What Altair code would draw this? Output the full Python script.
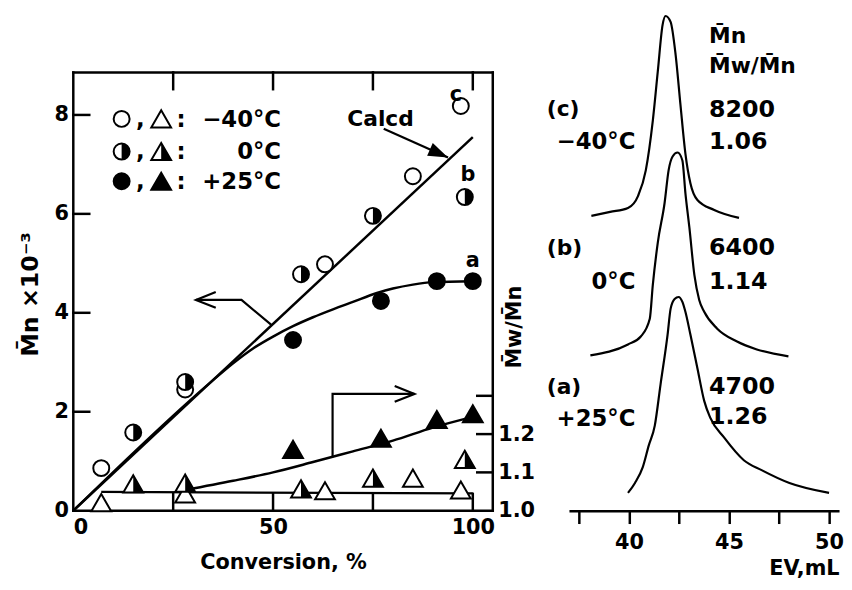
import altair as alt
import pandas as pd

FONT = "DejaVu Sans"
INK = "black"

# ---------------- left panel values ----------------
# Mn x 10^-3 against conversion (%)
conv_m40 = [7, 28, 63, 85, 97]          # open circles, -40 C
mn_m40 = [0.86, 2.45, 4.98, 6.76, 8.18]
conv_0 = [15, 28, 57, 75, 98]           # half circles, 0 C
mn_0 = [1.58, 2.60, 4.78, 5.96, 6.34]
conv_p25 = [55, 77, 91, 100]            # filled circles, +25 C
mn_p25 = [3.45, 4.24, 4.64, 4.64]

# Mw/Mn against conversion
pdi_conv_m40 = [7, 28, 63, 85, 97]
pdi_m40 = [1.021, 1.044, 1.052, 1.085, 1.054]
pdi_conv_0 = [15, 28, 57, 75, 98]
pdi_0 = [1.070, 1.072, 1.057, 1.085, 1.134]
pdi_conv_p25 = [55, 77, 91, 100]
pdi_p25 = [1.160, 1.189, 1.238, 1.253]

# drawn lines
calcd_conv = [0, 100]
calcd_mn = [0, 7.55]
mnfit_conv = [0, 35, 40, 45, 50, 55, 60, 65, 70, 76, 80, 85, 90, 100]
mnfit_mn = [0, 2.64, 2.98, 3.28, 3.52, 3.73, 3.91, 4.07, 4.22, 4.40, 4.49, 4.57, 4.62, 4.64]
pdifit_conv = [28, 40, 50, 60, 70, 80, 90, 100]
pdifit_val = [1.054, 1.078, 1.100, 1.127, 1.155, 1.183, 1.217, 1.245]
pdiflat_conv = [7, 100]
pdiflat_val = [1.049, 1.045]

# annotation arrows (conversion, Mn units)
arrow_left_conv = [30.7, 42.1, 49.5]
arrow_left_mn = [4.26, 4.26, 3.76]
arrow_right_conv = [64.9, 64.9, 85.4]
arrow_right_mn = [1.08, 2.36, 2.36]
arrow_calcd_conv = [77.7, 93.8]
arrow_calcd_mn = [7.72, 7.14]

# axis ticks
mn_ticks = [0, 2, 4, 6, 8]
conv_labels = [0, 50, 100]
conv_inner = [25, 50, 75, 100]
mn_inner = [2, 4, 6, 8]
pdi_labels = [1.0, 1.1, 1.2]
pdi_inner = [1.1, 1.2, 1.3]
FRAME_R, FRAME_T = 105, 8.86

# legend
legend_rows_y = [7.92, 7.26, 6.66]
legend_text = ["\u221240\u00b0C", "0\u00b0C", "+25\u00b0C"]

# ---------------- right panel values (GPC traces) ----------------
trace_c_ev = [38.12, 39.06, 39.95, 40.45, 40.84, 41.19, 41.44, 41.68, 41.83, 42.08,
              42.33, 42.57, 42.82, 43.07, 43.42, 44.26, 45.50]
trace_c_h = [298, 302, 306, 318, 344, 394, 444, 491, 500, 494,
             461, 411, 361, 331, 314, 304, 296]
trace_b_ev = [38.07, 39.95, 40.59, 41.04, 41.19, 41.44, 41.78, 41.98, 42.18, 42.43,
              42.67, 42.82, 43.02, 43.27, 43.51, 43.76, 44.41, 45.40, 46.39, 47.97]
trace_b_h = [157, 168, 176, 194, 228, 271, 311, 344, 358, 362,
             354, 321, 286, 238, 213, 201, 184, 171, 163, 156]
trace_a_ev = [39.95, 40.30, 40.69, 40.99, 41.29, 41.58, 41.93, 42.08, 42.28, 42.48,
              42.67, 42.82, 43.07, 43.42, 43.76, 44.06, 44.75, 45.74, 46.63, 48.02, 50.00]
trace_a_h = [18, 28, 44, 66, 86, 128, 178, 204, 214, 216,
             211, 201, 178, 144, 111, 94, 74, 51, 41, 28, 18]
ev_ticks = [37.5, 40, 42.5, 45, 47.5, 50]

sample_text = ["(c)", "(b)", "(a)"]
sample_h = [399, 258, 118]
temp_text = ["\u221240\u00b0C", "0\u00b0C", "+25\u00b0C"]
temp_h = [366, 224, 86]
mn_text = ["8200", "6400", "4700"]
mn_h = [398, 258, 118]
pdi_text = ["1.06", "1.14", "1.26"]
pdi_h = [366, 224, 88]
header_text = ["M\u0304n", "M\u0304w/M\u0304n"]
header_h = [473, 442]

# ---------------- scales ----------------
XS = alt.Scale(domain=[0, 105], nice=False, zero=False)
YMN = alt.Scale(domain=[0, 10.06], nice=False, zero=False)
YPDI = alt.Scale(domain=[1.0, 2.2997], nice=False, zero=False)
EVS = alt.Scale(domain=[37, 50.5], nice=False, zero=False)
HS = alt.Scale(domain=[0, 503], nice=False, zero=False)

TXT = dict(font=FONT, fontWeight="bold", color=INK)


def X(field="x"):
    return alt.X(f"{field}:Q", scale=XS)


def YM(field="y"):
    return alt.Y(f"{field}:Q", scale=YMN)


def YP(field="y"):
    return alt.Y(f"{field}:Q", scale=YPDI)


# ---- Mn group ----
seg = []
seg += [(0, 0, 0, FRAME_T), (FRAME_R, FRAME_R, 0, FRAME_T), (0, FRAME_R, 0, 0), (0, FRAME_R, FRAME_T, FRAME_T)]
seg += [(0, 4.0, v, v) for v in mn_inner]
seg += [(v, v, 0, 0.34) for v in conv_inner]
seg += [(v, v, FRAME_T - 0.34, FRAME_T) for v in conv_inner]
seg_df = pd.DataFrame(seg, columns=["x", "x2", "y", "y2"])

frame = alt.Chart(seg_df).mark_rule(color=INK, strokeWidth=2.5, strokeCap="square").encode(
    x=alt.X("x:Q", scale=XS, axis=alt.Axis(
        values=conv_labels, title="Conversion, %", domain=False, ticks=False, tickSize=0,
        grid=False, labelFont=FONT, labelFontWeight="bold", labelFontSize=21, labelColor=INK,
        labelPadding=6, titleFont=FONT, titleFontWeight="bold", titleFontSize=21, titleColor=INK,
        titleBaseline="alphabetic", titleY=58)),
    x2="x2:Q",
    y=alt.Y("y:Q", scale=YMN, axis=alt.Axis(
        values=mn_ticks, title="M\u0304n \u00d710\u207b\u00b3", domain=False, ticks=False, tickSize=0,
        grid=False, labelFont=FONT, labelFontWeight="bold", labelFontSize=21, labelColor=INK,
        labelPadding=5, titleFont=FONT, titleFontWeight="bold", titleFontSize=24, titleColor=INK,
        titleAngle=270, titleAlign="center", titleBaseline="alphabetic", titleX=-36, titleY=284)),
    y2="y2:Q",
)


def line_chart(xs, ys, yenc, interp="linear", width=2.5):
    d = pd.DataFrame({"x": xs, "y": ys, "i": list(range(len(xs)))})
    return alt.Chart(d).mark_line(color=INK, strokeWidth=width, interpolate=interp).encode(
        x=X(), y=yenc(), order="i:Q")


def points(xs, ys, yenc, shape, size, fill, stroke=INK, sw=2.0):
    d = pd.DataFrame({"x": xs, "y": ys})
    return alt.Chart(d).mark_point(shape=shape, size=size, filled=True, fill=fill, stroke=stroke,
                                   strokeWidth=sw, opacity=1).encode(x=X(), y=yenc())


HALF_CIRCLE = "M0,-1A1,1,0,0,1,0,1Z"
HALF_TRI = "M0,-0.866L1,0.866L0,0.866Z"
CS, TS = 260, 400

mn_layers = [
    frame,
    line_chart(calcd_conv, calcd_mn, YM),
    line_chart(mnfit_conv, mnfit_mn, YM, interp="monotone"),
    line_chart(arrow_left_conv, arrow_left_mn, YM, width=2.2),
    line_chart(arrow_right_conv, arrow_right_mn, YM, width=2.2),
    line_chart(arrow_calcd_conv, arrow_calcd_mn, YM, width=2.2),
    # arrow heads
    alt.Chart(pd.DataFrame({"x": [arrow_left_conv[0]], "y": [arrow_left_mn[0]]})).mark_point(
        shape="M2,-0.8L0,0L2,0.8", size=400, filled=False, color=INK, strokeWidth=2.2, opacity=1
    ).encode(x=X(), y=YM()),
    alt.Chart(pd.DataFrame({"x": [arrow_right_conv[-1]], "y": [arrow_right_mn[-1]]})).mark_point(
        shape="M-2,-0.8L0,0L-2,0.8", size=400, filled=False, color=INK, strokeWidth=2.2, opacity=1
    ).encode(x=X(), y=YM()),
    alt.Chart(pd.DataFrame({"x": [arrow_calcd_conv[-1]], "y": [arrow_calcd_mn[-1]]})).mark_point(
        shape="M0,0L-2,-0.7L-2,0.7Z", size=400, filled=True, color=INK, angle=24, opacity=1
    ).encode(x=X(), y=YM()),
    # data circles
    points(conv_m40, mn_m40, YM, "circle", CS, "white"),
    points(conv_0, mn_0, YM, "circle", CS, "white"),
    points(conv_0, mn_0, YM, HALF_CIRCLE, CS, INK, sw=0),
    points(conv_p25, mn_p25, YM, "circle", CS, INK),
    # legend symbols
    points([12.1], [legend_rows_y[0]], YM, "circle", CS, "white"),
    points([12.1], [legend_rows_y[1]], YM, "circle", CS, "white"),
    points([12.1], [legend_rows_y[1]], YM, HALF_CIRCLE, CS, INK, sw=0),
    points([12.1], [legend_rows_y[2]], YM, "circle", CS, INK),
    points([22.0], [legend_rows_y[0]], YM, "triangle-up", TS, "white"),
    points([22.0], [legend_rows_y[1]], YM, "triangle-up", TS, "white"),
    points([22.0], [legend_rows_y[1]], YM, HALF_TRI, TS, INK, sw=0),
    points([22.0], [legend_rows_y[2]], YM, "triangle-up", TS, INK),
]

# legend texts
leg_base = [v - 0.16 for v in legend_rows_y]
leg_df = pd.DataFrame({
    "x": [16.8] * 3 + [27.0] * 3,
    "y": leg_base + leg_base,
    "t": [","] * 3 + [":"] * 3,
})
mn_layers.append(alt.Chart(leg_df).mark_text(fontSize=23, align="center", baseline="alphabetic", **TXT)
                 .encode(x=X(), y=YM(), text="t:N"))
leg_t = pd.DataFrame({"x": [52.0] * 3, "y": leg_base, "t": legend_text})
mn_layers.append(alt.Chart(leg_t).mark_text(fontSize=23, align="right", baseline="alphabetic", **TXT)
                 .encode(x=X(), y=YM(), text="t:N"))

# labels on the plot
lab_df = pd.DataFrame({
    "x": [76.9, 100.0, 98.8, 95.8],
    "y": [7.78, 4.92, 6.66, 8.28],
    "t": ["Calcd", "a", "b", "c"],
    "s": [22, 21, 21, 21],
})
mn_layers.append(alt.Chart(lab_df).mark_text(align="center", baseline="alphabetic", **TXT)
                 .encode(x=X(), y=YM(), text="t:N", size=alt.Size("s:Q", scale=None, legend=None)))

mn_group = alt.layer(*mn_layers)

# ---- Mw/Mn group ----
rt = pd.DataFrame({"x": [100.8] * 3, "x2": [FRAME_R] * 3, "y": pdi_inner})
pdi_ticks = alt.Chart(rt).mark_rule(color=INK, strokeWidth=2.5).encode(
    x=X(), x2="x2:Q",
    y=alt.Y("y:Q", scale=YPDI, axis=alt.Axis(
        orient="right", values=pdi_labels, format=".1f", title="M\u0304w/M\u0304n", domain=False,
        ticks=False, tickSize=0, grid=False, labelFont=FONT, labelFontWeight="bold",
        labelFontSize=21, labelColor=INK, labelPadding=5, titleFont=FONT, titleFontWeight="bold",
        titleFontSize=21, titleColor=INK, titleAngle=270, titleAlign="center",
        titleBaseline="alphabetic", titleX=28, titleY=317)),
)
pdi_group = alt.layer(
    pdi_ticks,
    line_chart(pdifit_conv, pdifit_val, YP, interp="monotone"),
    line_chart(pdiflat_conv, pdiflat_val, YP, width=2.2),
    points(pdi_conv_m40, pdi_m40, YP, "triangle-up", TS, "white"),
    points(pdi_conv_0, pdi_0, YP, "triangle-up", TS, "white"),
    points(pdi_conv_0, pdi_0, YP, HALF_TRI, TS, INK, sw=0),
    points(pdi_conv_p25, pdi_p25, YP, "triangle-up", TS, INK),
)

left = alt.layer(mn_group, pdi_group).resolve_scale(y="independent").properties(width=424, height=503)

# ---- right panel ----
tr = pd.concat([
    pd.DataFrame({"ev": trace_c_ev, "h": trace_c_h, "s": "c", "i": range(len(trace_c_ev))}),
    pd.DataFrame({"ev": trace_b_ev, "h": trace_b_h, "s": "b", "i": range(len(trace_b_ev))}),
    pd.DataFrame({"ev": trace_a_ev, "h": trace_a_h, "s": "a", "i": range(len(trace_a_ev))}),
])
traces = alt.Chart(tr).mark_line(color=INK, strokeWidth=2.2, interpolate="monotone").encode(
    x=alt.X("ev:Q", scale=EVS, axis=alt.Axis(
        values=ev_ticks, labelExpr="datum.value % 5 === 0 ? datum.label : ''", title="EV,mL",
        domainColor=INK, domainWidth=2.5, tickColor=INK, tickWidth=2.5, tickSize=13, grid=False,
        labelFont=FONT, labelFontWeight="bold", labelFontSize=21, labelColor=INK, labelPadding=8,
        titleFont=FONT, titleFontWeight="bold", titleFontSize=21, titleColor=INK,
        titleAnchor="end", titleAlign="right", titleBaseline="alphabetic", titleX=273, titleY=65)),
    y=alt.Y("h:Q", scale=HS, axis=None),
    detail="s:N",
    order="i:Q",
)


def rtext(xs, hs, ts, align, size=22):
    d = pd.DataFrame({"ev": xs, "h": hs, "t": ts})
    return alt.Chart(d).mark_text(fontSize=size, align=align, baseline="alphabetic", **TXT).encode(
        x=alt.X("ev:Q", scale=EVS), y=alt.Y("h:Q", scale=HS, axis=None), text="t:N")


right = alt.layer(
    traces,
    rtext([35.89] * 3, sample_h, sample_text, "left"),
    rtext([40.32] * 3, temp_h, temp_text, "right", 23),
    rtext([44.0] * 3, mn_h, mn_text, "left", 24),
    rtext([44.0] * 3, pdi_h, pdi_text, "left", 24),
    rtext([44.0] * 2, header_h, header_text, "left", 22),
).properties(width=273, height=503)

chart = alt.hconcat(left, right, spacing=11).properties(
    padding={"left": 11, "top": 0, "right": 0, "bottom": 0}
).configure_view(stroke=None).configure_axis(grid=False)

chart.save("out.html", embed_options={"renderer": "svg", "actions": False})
